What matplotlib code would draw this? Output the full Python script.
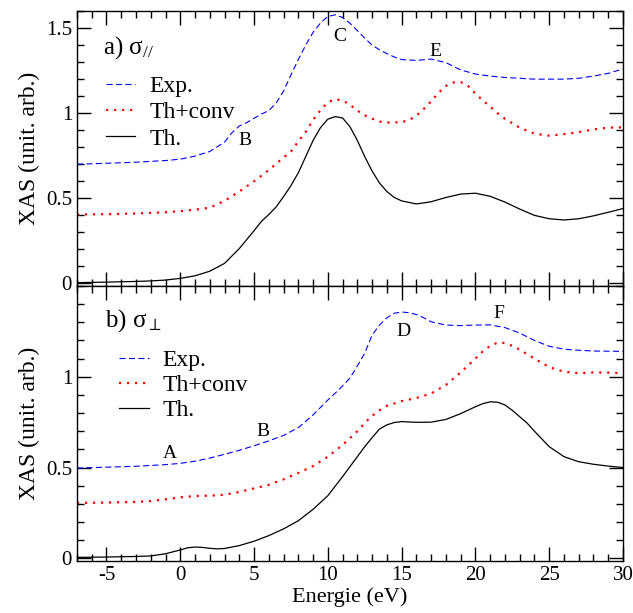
import numpy as np
import matplotlib
matplotlib.use("Agg")
import matplotlib.pyplot as plt
from matplotlib.ticker import MultipleLocator, FixedLocator

plt.rcParams['font.family'] = ['Liberation Serif', 'DejaVu Serif']
plt.rcParams['mathtext.fontset'] = 'custom'
plt.rcParams['mathtext.rm'] = 'Liberation Serif'
plt.rcParams['mathtext.it'] = 'Liberation Serif'
plt.rcParams['mathtext.fallback'] = 'stix'

# ---- data ----
# a) sigma //
e_top_exp = [-7, -5, -3, -1, 0, 1, 2, 3, 3.5, 4, 4.5, 5, 5.5, 6, 6.5, 7, 7.5, 8, 8.5,
             9, 9.5, 10, 10.5, 11, 11.5, 12, 12.5, 13, 13.5, 14, 14.5, 15, 16, 17,
             18, 19, 20, 21, 22, 24, 26, 27, 28, 29, 30]
top_exp = [0.70, 0.706, 0.712, 0.722, 0.73, 0.748, 0.775, 0.83, 0.885, 0.925, 0.945,
           0.97, 0.995, 1.015, 1.06, 1.13, 1.225, 1.315, 1.40, 1.475, 1.53, 1.568,
           1.578, 1.562, 1.528, 1.485, 1.44, 1.40, 1.372, 1.35, 1.33, 1.315, 1.31,
           1.318, 1.297, 1.254, 1.23, 1.218, 1.21, 1.20, 1.20, 1.205, 1.218, 1.234,
           1.26]

e_top_conv = [-7, -5, -3, -1, 0, 1, 2, 3, 4, 5, 6, 7, 7.5, 8, 8.5, 9, 9.5, 10, 10.5,
              11, 11.5, 12, 12.5, 13, 13.5, 14, 15, 15.5, 16, 16.5, 17, 17.5, 18,
              18.5, 19, 19.5, 20, 20.5, 21, 21.5, 22, 23, 24, 25, 26, 27, 28, 29, 30]
top_conv = [0.405, 0.407, 0.411, 0.418, 0.425, 0.433, 0.445, 0.485, 0.54, 0.60, 0.666,
            0.74, 0.775, 0.835, 0.89, 0.96, 1.018, 1.064, 1.082, 1.075, 1.05, 1.015,
            0.988, 0.968, 0.951, 0.945, 0.947, 0.96, 0.985, 1.025, 1.07, 1.12, 1.16,
            1.18, 1.183, 1.16, 1.115, 1.075, 1.038, 1.0, 0.967, 0.915, 0.88, 0.868,
            0.877, 0.889, 0.905, 0.915, 0.917]

e_top_th = [-7, -5, -3, -2, -1, 0, 1, 2, 3, 4, 5, 5.5, 6, 6.5, 7, 7.5, 8, 8.5, 9,
            9.5, 10, 10.5, 11, 11.5, 12, 12.5, 13, 13.5, 14, 14.5, 15, 16, 17, 18,
            19, 20, 21, 22, 23, 24, 25, 26, 27, 28, 29, 30]
top_th = [0.005, 0.008, 0.012, 0.015, 0.02, 0.03, 0.045, 0.072, 0.118, 0.205, 0.31,
          0.365, 0.405, 0.45, 0.51, 0.575, 0.65, 0.745, 0.84, 0.915, 0.965, 0.98,
          0.972, 0.92, 0.84, 0.745, 0.66, 0.59, 0.54, 0.505, 0.485, 0.467, 0.48,
          0.505, 0.525, 0.53, 0.512, 0.478, 0.437, 0.40, 0.38, 0.373, 0.38, 0.397,
          0.418, 0.44]

# b) sigma perp
e_bot_exp = [-7, -5, -3, -1, 0, 1, 2, 3, 4, 5, 6, 7, 8, 9, 10, 10.5, 11, 11.5, 12,
             12.5, 13, 13.5, 14, 14.5, 15, 15.5, 16, 16.5, 17, 18, 19, 20, 21, 22,
             23, 24, 25, 26, 27, 28, 30]
bot_exp = [0.497, 0.502, 0.507, 0.516, 0.523, 0.535, 0.552, 0.573, 0.595, 0.62,
           0.647, 0.677, 0.72, 0.79, 0.872, 0.91, 0.95, 0.993, 1.06, 1.13, 1.23,
           1.285, 1.325, 1.35, 1.357, 1.353, 1.343, 1.325, 1.303, 1.285, 1.282,
           1.285, 1.286, 1.271, 1.241, 1.20, 1.168, 1.152, 1.146, 1.142, 1.14]

e_bot_conv = [-7, -5, -3, -2, -1, 0, 1, 2, 3, 4, 5, 6, 7, 8, 9, 10, 11, 12, 12.5,
              13, 13.5, 14, 15, 16, 17, 18, 19, 20, 20.5, 21, 21.5, 22, 22.5, 23,
              24, 25, 26, 27, 28, 29, 30]
bot_conv = [0.305, 0.307, 0.311, 0.315, 0.325, 0.336, 0.343, 0.345, 0.35, 0.365,
            0.385, 0.405, 0.435, 0.47, 0.508, 0.56, 0.624, 0.70, 0.745, 0.785,
            0.815, 0.84, 0.866, 0.883, 0.908, 0.955, 1.024, 1.10, 1.14, 1.17, 1.188,
            1.186, 1.17, 1.15, 1.10, 1.053, 1.028, 1.02, 1.024, 1.023, 1.02]

e_bot_th = [-7, -5, -3, -2, -1, 0, 0.5, 1, 1.5, 2, 2.5, 3, 4, 5, 6, 7, 8, 9, 10, 11,
            12, 12.5, 13, 13.5, 14, 14.5, 15, 16, 17, 18, 19, 20, 20.5, 21, 21.5,
            22, 22.5, 23, 23.5, 24, 25, 26, 27, 28, 29, 30]
bot_th = [0.005, 0.007, 0.01, 0.013, 0.025, 0.046, 0.058, 0.062, 0.06, 0.055, 0.052,
          0.054, 0.07, 0.094, 0.125, 0.162, 0.207, 0.27, 0.345, 0.45, 0.56, 0.615,
          0.665, 0.712, 0.735, 0.748, 0.753, 0.749, 0.75, 0.765, 0.797, 0.835,
          0.852, 0.862, 0.86, 0.845, 0.815, 0.78, 0.745, 0.70, 0.615, 0.56, 0.532,
          0.518, 0.508, 0.50]

labels = ['Exp.', 'Th+conv', 'Th.']
top_letters = [('B', 4.4, 0.84), ('C', 10.8, 1.45), ('E', 17.3, 1.365)]
bot_letters = [('A', -0.7, 0.575), ('B', 5.6, 0.70), ('D', 15.1, 1.25), ('F', 21.6, 1.35)]

fig = plt.figure(figsize=(6.33, 6.13), dpi=100)
ax1 = fig.add_axes([0.1216, 0.5334, 0.8626, 0.4486])
ax2 = fig.add_axes([0.1216, 0.0848, 0.8626, 0.4486])


def draw(ax, e_exp, exp, e_conv, conv, e_th, th):
    ax.plot(e_exp, exp, color='#0000ff', lw=0.8, dashes=(5.5, 3))
    ax.plot(e_conv, conv, color='#ff0000', lw=1.6, linestyle=(0, (1, 2.6)))
    ax.plot(e_th, th, color='black', lw=0.9)


draw(ax1, e_top_exp, top_exp, e_top_conv, top_conv, e_top_th, top_th)
draw(ax2, e_bot_exp, bot_exp, e_bot_conv, bot_conv, e_bot_th, bot_th)

for ax in (ax1, ax2):
    ax.set_xlim(-7, 30)
    ax.xaxis.set_major_locator(MultipleLocator(5))
    ax.xaxis.set_minor_locator(MultipleLocator(1))
    ax.yaxis.set_minor_locator(MultipleLocator(0.1))
    ax.tick_params(which='both', direction='in', top=True, right=True, width=1)
    ax.tick_params(which='major', length=10, labelsize=15)
    ax.tick_params(which='minor', length=5)
    for s in ax.spines.values():
        s.set_linewidth(1)
    ax.set_ylabel('XAS (unit. arb.)', fontsize=17)

ax1.legend(labels, loc='upper left', frameon=False, fontsize=17,
           handlelength=1.25, handletextpad=0.6, labelspacing=0.2,
           borderpad=0, borderaxespad=0, bbox_to_anchor=(0.053, 0.765))
ax2.legend(labels, loc='upper left', frameon=False, fontsize=17,
           handlelength=1.25, handletextpad=0.6, labelspacing=0.14,
           borderpad=0, borderaxespad=0, bbox_to_anchor=(0.077, 0.768))

ax1.set_ylim(-0.015, 1.6)
ax1.yaxis.set_major_locator(FixedLocator([0, 0.5, 1, 1.5]))
ax1.set_yticklabels(['0', '0.5', '1', '1.5'])
ax1.tick_params(labelbottom=False)

ax2.set_ylim(-0.015, 1.5)
ax2.yaxis.set_major_locator(FixedLocator([0, 0.5, 1]))
ax2.set_yticklabels(['0', '0.5', '1'])
ax2.set_xticks([-5, 0, 5, 10, 15, 20, 25, 30])
ax2.set_xticklabels(['-5', '0', '5', '10', '15', '20', '25', '30'])
ax2.set_xlabel('Energie (eV)', fontsize=16, labelpad=2)

ax1.text(0.048, 0.847, r'a) $\sigma_{//}$', transform=ax1.transAxes, fontsize=18,
         va='baseline')
ax2.text(0.051, 0.851, r'b) $\sigma_{\perp}$', transform=ax2.transAxes, fontsize=18,
         va='baseline')

for t, x, y in top_letters:
    ax1.text(x, y, t, fontsize=14, ha='center', va='center')
for t, x, y in bot_letters:
    ax2.text(x, y, t, fontsize=14, ha='center', va='center')

fig.align_ylabels([ax1, ax2])
fig.savefig('out.png', dpi=100)
